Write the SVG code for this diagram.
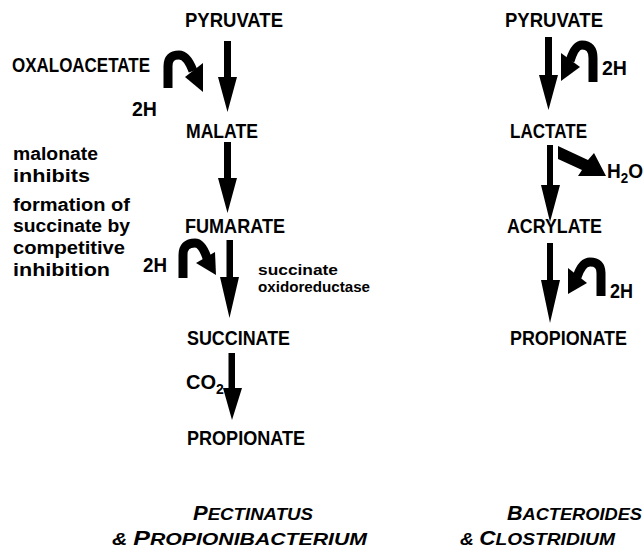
<svg xmlns="http://www.w3.org/2000/svg" width="644" height="550" viewBox="0 0 644 550">
<style>
text{font-family:"Liberation Sans",Arial,sans-serif;font-weight:bold;fill:#000}
.cap{font-size:20px}
.low{font-size:18px}
.sm{font-size:15px}
.it{font-style:italic;font-size:17px}
.big{font-size:20px}
.curve{fill:none;stroke:#000;stroke-width:9;stroke-linecap:butt;stroke-linejoin:round}
.solid{fill:#000;stroke:none}
</style>
<rect width="644" height="550" fill="#fff"/>
<g id="connectors">
  <path class="solid" d="M224,41 H231 V77 H237 L227.5,112 L218,77 H224 Z"/>
  <path class="solid" d="M224,142 H231 V178 H237 L227.5,213 L218,178 H224 Z"/>
  <path class="solid" d="M226.5,240 H233 V277 H239 L229.5,318 L220,277 H226.5 Z"/>
  <path class="solid" d="M228.5,353 H235 V388 H242 L232,420 L223,388 H228.5 Z"/>
  <path class="solid" d="M545,37 H552 V75 H558 L548.5,110 L539,75 H545 Z"/>
  <path class="solid" d="M547,145 H553 V185 H560 L550,222 L541,185 H547 Z"/>
  <path class="solid" d="M547,243 H553 V280 H560 L550,323 L541,280 H547 Z"/>
  <path class="curve" d="M168,88 V66 Q168,55 179,55 Q187,55 193,71"/>
  <polygon class="solid" points="185,77 203,63 203,92"/>
  <path class="curve" d="M183,278 V255 Q183,243 195,243 Q202,243 207,258"/>
  <polygon class="solid" points="196,263 215,252 216,275"/>
  <path class="curve" d="M593,82 V58 Q593,45 582,45 Q575,45 570,61"/>
  <polygon class="solid" points="580,67 561,53 561,81"/>
  <path class="curve" d="M601,296 V273 Q601,262 590,262 Q582,262 577,277"/>
  <polygon class="solid" points="587,283 568,268 568,294"/>
  <polygon class="solid" points="558,146 588,160 594,153 606,176 578,176 582,170 558,159"/>
</g>
<g id="left-pyruvate"><text class="cap" x="185" y="27" textLength="98" lengthAdjust="spacingAndGlyphs">PYRUVATE</text></g>
<g id="oxaloacetate"><text class="cap" x="12" y="72" textLength="138" lengthAdjust="spacingAndGlyphs">OXALOACETATE</text></g>
<g id="left-2h-1"><text class="cap" x="132" y="116" textLength="25" lengthAdjust="spacingAndGlyphs">2H</text></g>
<g id="malate"><text class="cap" x="186" y="138" textLength="72" lengthAdjust="spacingAndGlyphs">MALATE</text></g>
<g id="note">
  <text class="low" x="13" y="160" textLength="85" lengthAdjust="spacingAndGlyphs">malonate</text>
  <text class="low" x="13" y="182" textLength="77" lengthAdjust="spacingAndGlyphs">inhibits</text>
  <text class="low" x="13" y="211" textLength="117" lengthAdjust="spacingAndGlyphs">formation of</text>
  <text class="low" x="13" y="232" textLength="117" lengthAdjust="spacingAndGlyphs">succinate by</text>
  <text class="low" x="13" y="254" textLength="112" lengthAdjust="spacingAndGlyphs">competitive</text>
  <text class="low" x="13" y="276" textLength="97" lengthAdjust="spacingAndGlyphs">inhibition</text>
</g>
<g id="fumarate"><text class="cap" x="185" y="233" textLength="100" lengthAdjust="spacingAndGlyphs">FUMARATE</text></g>
<g id="left-2h-2"><text class="cap" x="143" y="272" textLength="24" lengthAdjust="spacingAndGlyphs">2H</text></g>
<g id="enzyme">
  <text class="sm" x="258" y="275" textLength="80" lengthAdjust="spacingAndGlyphs">succinate</text>
  <text class="sm" x="258" y="292" textLength="112" lengthAdjust="spacingAndGlyphs">oxidoreductase</text>
</g>
<g id="succinate"><text class="cap" x="187" y="345" textLength="103" lengthAdjust="spacingAndGlyphs">SUCCINATE</text></g>
<g id="co2"><text class="cap" x="186" y="389">CO<tspan font-size="14" dy="5">2</tspan></text></g>
<g id="left-propionate"><text class="cap" x="187" y="445" textLength="118" lengthAdjust="spacingAndGlyphs">PROPIONATE</text></g>
<g id="right-pyruvate"><text class="cap" x="505" y="27" textLength="98" lengthAdjust="spacingAndGlyphs">PYRUVATE</text></g>
<g id="right-2h-1"><text class="cap" x="602" y="75" textLength="25" lengthAdjust="spacingAndGlyphs">2H</text></g>
<g id="lactate"><text class="cap" x="510" y="138" textLength="77" lengthAdjust="spacingAndGlyphs">LACTATE</text></g>
<g id="h2o"><text class="cap" x="607" y="178" textLength="36" lengthAdjust="spacingAndGlyphs">H<tspan font-size="14" dy="5">2</tspan><tspan dy="-5">O</tspan></text></g>
<g id="acrylate"><text class="cap" x="507" y="233" textLength="95" lengthAdjust="spacingAndGlyphs">ACRYLATE</text></g>
<g id="right-2h-2"><text class="cap" x="610" y="298" textLength="23" lengthAdjust="spacingAndGlyphs">2H</text></g>
<g id="right-propionate"><text class="cap" x="510" y="345" textLength="117" lengthAdjust="spacingAndGlyphs">PROPIONATE</text></g>
<g id="label-left">
  <text class="it" x="193" y="520" textLength="120" lengthAdjust="spacingAndGlyphs"><tspan class="big">P</tspan>ECTINATUS</text>
  <text class="it" x="112" y="545" textLength="255" lengthAdjust="spacingAndGlyphs">&amp; <tspan class="big">P</tspan>ROPIONIBACTERIUM</text>
</g>
<g id="label-right">
  <text class="it" x="507" y="520" textLength="135" lengthAdjust="spacingAndGlyphs"><tspan class="big">B</tspan>ACTEROIDES</text>
  <text class="it" x="460" y="545" textLength="155" lengthAdjust="spacingAndGlyphs">&amp; <tspan class="big">C</tspan>LOSTRIDIUM</text>
</g>
</svg>
